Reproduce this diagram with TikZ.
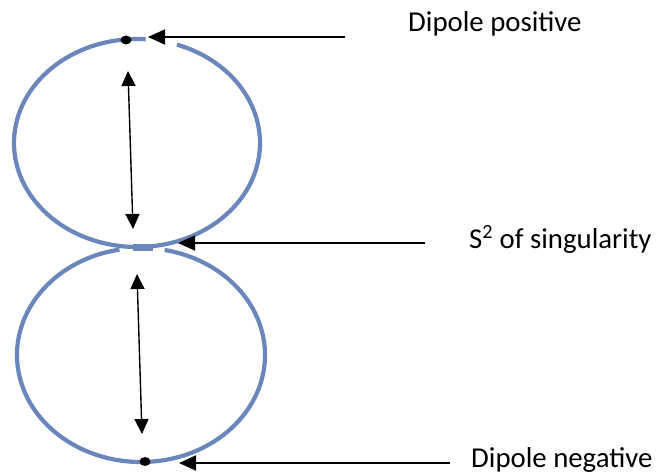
\documentclass[tikz,border=0pt]{standalone}
\usepackage{fontspec}
\setmainfont{Carlito}
\usetikzlibrary{arrows.meta}
\definecolor{ringblue}{RGB}{106,134,186}
\tikzset{
  ring/.style={draw=ringblue, line width=4.2pt},
  pointer/.style={draw=black, line width=1.8pt, -{Triangle[length=17pt,width=15pt]}},
  span/.style={draw=black, line width=1.4pt, {Triangle[length=15pt,width=14pt]}-{Triangle[length=15pt,width=14pt]}},
  lbl/.style={font=\fontsize{28.8}{32}\selectfont, anchor=base west, inner sep=0pt},
}
\begin{document}
\begin{tikzpicture}[x=1pt,y=1pt]
\useasboundingbox (0,0) rectangle (659,475);
% rings
\draw[ring] ({137+123*cos(86)},{332+104*sin(86)}) arc[start angle=86, end angle=431, x radius=123, y radius=104];
\draw[ring] ({141+124*cos(100)},{120+107*sin(100)}) arc[start angle=100, end angle=439, x radius=124, y radius=107];
% singularity patch
\fill[ringblue] (133,224) rectangle (153,231);
\coordinate (sing) at (178,232);
% dipole dots
\fill[black] (126,435) ellipse[x radius=5.5, y radius=4.5];
\fill[black] (145,13.5) ellipse[x radius=5.5, y radius=4.5];
\coordinate (ptop) at (148,438);
\coordinate (pbot) at (179,12);
% double arrows
\coordinate (a1) at (128,404);
\coordinate (a2) at (133,246);
\coordinate (b1) at (137,201);
\coordinate (b2) at (142,41);
\draw[span] (a1) -- (a2);
\draw[span] (b1) -- (b2);
% labels
\node[lbl] (lpos) at (408,443) {Dipole positive};
\node[lbl] (lsing) at (469,227) {S\textsuperscript{2} of singularity};
\node[lbl] (lneg) at (471,8) {Dipole negative};
% pointers
\coordinate (t1) at (345,438);
\coordinate (t2) at (425,232);
\coordinate (t3) at (450,12);
\draw[pointer] (t1) -- (ptop);
\draw[pointer] (t2) -- (sing);
\draw[pointer] (t3) -- (pbot);
\end{tikzpicture}
\end{document}
